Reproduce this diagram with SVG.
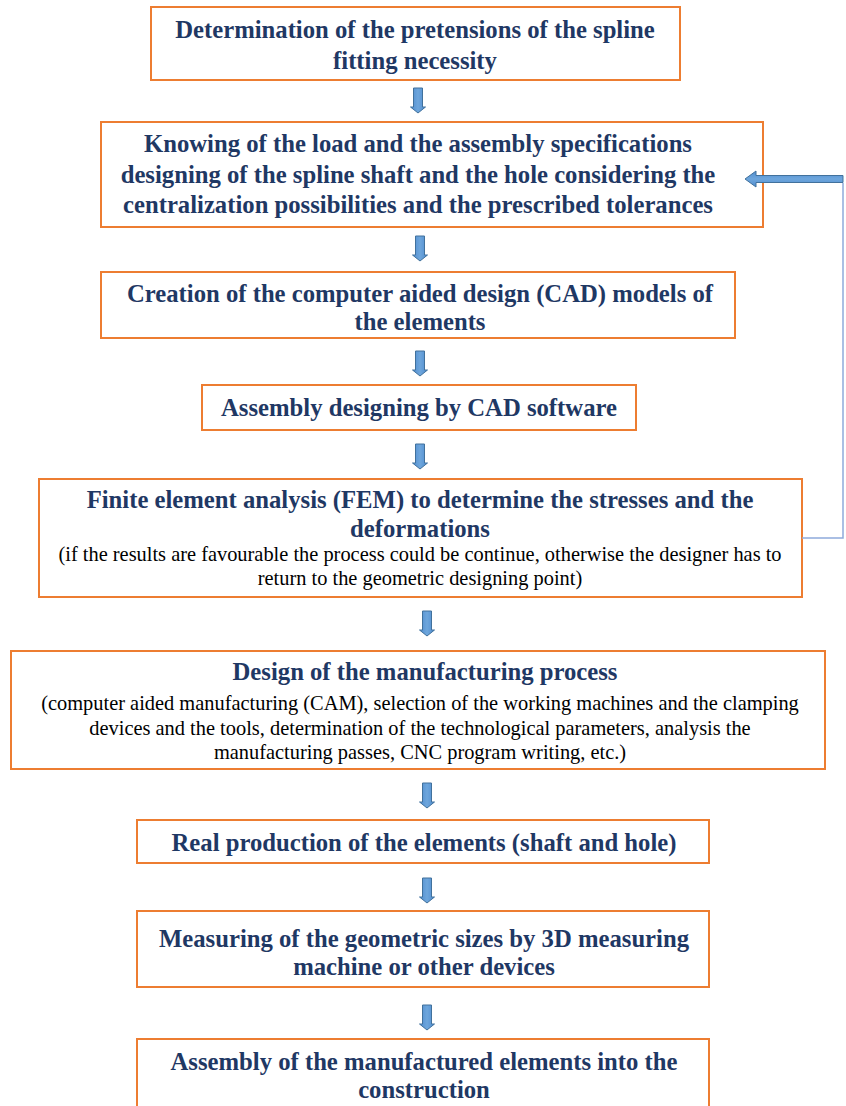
<svg xmlns="http://www.w3.org/2000/svg" width="846" height="1106" viewBox="0 0 846 1106">
<defs>
<linearGradient id="ag" x1="0" y1="0" x2="1" y2="0">
<stop offset="0" stop-color="#4f8ccf"/><stop offset="0.5" stop-color="#6ea6dc"/><stop offset="1" stop-color="#4f8ccf"/>
</linearGradient>
<linearGradient id="agh" x1="0" y1="0" x2="0" y2="1">
<stop offset="0" stop-color="#4f8ccf"/><stop offset="0.5" stop-color="#6ea6dc"/><stop offset="1" stop-color="#4f8ccf"/>
</linearGradient>
<path id="da" d="M-4.5,0 H4.5 V19 H7.5 L0,25 L-7.5,19 H-4.5 Z"/>
</defs>
<style>
.box{fill:#fff;stroke:#ed7d31;stroke-width:2}
.b{font-family:"Liberation Serif",serif;font-weight:bold;font-size:24.7px;fill:#1f3864;text-anchor:middle}
.n{font-family:"Liberation Serif",serif;font-size:20.4px;fill:#000;text-anchor:middle}
.arr{fill:url(#ag);stroke:#41719c;stroke-width:1}
.fb{fill:none;stroke:#8eaadb;stroke-width:1.5}
</style>
<rect width="846" height="1106" fill="#fff"/>
<g id="n1"><rect class="box" x="151" y="7" width="529" height="73"/>
<text class="b" x="415" y="38">Determination of the pretensions of the spline</text>
<text class="b" x="415" y="69">fitting necessity</text></g>
<g id="n2"><rect class="box" x="101" y="122" width="662" height="105"/>
<text class="b" x="418" y="152">Knowing of the load and the assembly specifications</text>
<text class="b" x="418" y="183">designing of the spline shaft and the hole considering the</text>
<text class="b" x="418" y="213">centralization possibilities and the prescribed tolerances</text></g>
<g id="n3"><rect class="box" x="101" y="272" width="634" height="66"/>
<text class="b" x="420" y="302">Creation of the computer aided design (CAD) models of</text>
<text class="b" x="420" y="330">the elements</text></g>
<g id="n4"><rect class="box" x="202" y="385" width="434" height="45"/>
<text class="b" x="419" y="416">Assembly designing by CAD software</text></g>
<g id="n5"><rect class="box" x="39" y="479" width="763" height="118"/>
<text class="b" x="420" y="508">Finite element analysis (FEM) to determine the stresses and the</text>
<text class="b" x="420" y="537">deformations</text>
<text class="n" x="420" y="561">(if the results are favourable the process could be continue, otherwise the designer has to</text>
<text class="n" x="420" y="585">return to the geometric designing point)</text></g>
<g id="n6"><rect class="box" x="11" y="651" width="814" height="118"/>
<text class="b" x="425" y="680">Design of the manufacturing process</text>
<text class="n" x="420" y="710">(computer aided manufacturing (CAM), selection of the working machines and the clamping</text>
<text class="n" x="420" y="735">devices and the tools, determination of the technological parameters, analysis the</text>
<text class="n" x="420" y="759">manufacturing passes, CNC program writing, etc.)</text></g>
<g id="n7"><rect class="box" x="137" y="820" width="572" height="43"/>
<text class="b" x="424" y="851">Real production of the elements (shaft and hole)</text></g>
<g id="n8"><rect class="box" x="137" y="911" width="572" height="76"/>
<text class="b" x="424" y="947">Measuring of the geometric sizes by 3D measuring</text>
<text class="b" x="424" y="975">machine or other devices</text></g>
<g id="n9"><rect class="box" x="137" y="1039" width="572" height="80"/>
<text class="b" x="424" y="1070">Assembly of the manufactured elements into the</text>
<text class="b" x="424" y="1098">construction</text></g>
<g id="connectors">
<use href="#da" class="arr" x="418" y="88"/>
<use href="#da" class="arr" x="420" y="236"/>
<use href="#da" class="arr" x="420" y="351"/>
<use href="#da" class="arr" x="420" y="444"/>
<use href="#da" class="arr" x="427" y="611"/>
<use href="#da" class="arr" x="427" y="783"/>
<use href="#da" class="arr" x="427" y="878"/>
<use href="#da" class="arr" x="427" y="1005"/>
<polyline class="fb" points="802,538 843,538 843,183"/>
<path d="M843,175.5 H756 V171 L745,179 L756,187 V182.5 H843 Z" fill="url(#agh)" stroke="#41719c" stroke-width="1"/>
</g>
</svg>
